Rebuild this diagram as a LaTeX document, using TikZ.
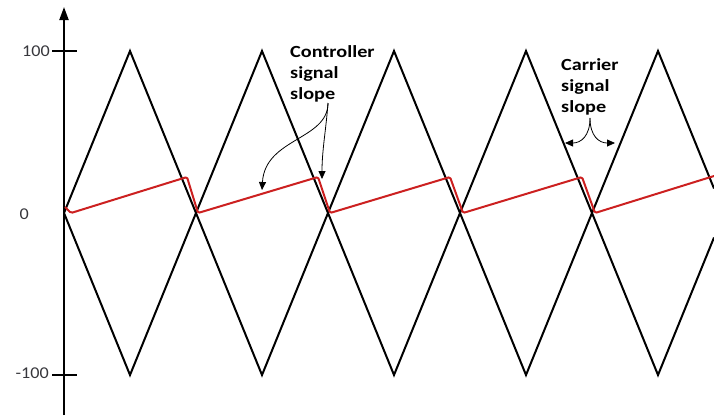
\documentclass[tikz,border=0pt]{standalone}
\usepackage{fontspec}
\setmainfont{Carlito}
\newfontfamily\labfont[FakeStretch=1.19]{Carlito}
\newfontfamily\numfont[FakeStretch=1.1]{Carlito}
\usetikzlibrary{arrows.meta}
\definecolor{sigred}{RGB}{204,32,32}
\definecolor{numgray}{RGB}{55,55,60}
\tikzset{
  wave/.style={line width=2bp, black, line join=miter},
  ctrlsig/.style={line width=2bp, sigred, line join=round, rounded corners=1.5bp},
  axisline/.style={line width=2bp, black},
  callout/.style={line width=0.8bp, black, -{Triangle[length=8bp,width=7bp]}},
  numlabel/.style={font=\numfont\fontsize{16.5bp}{20bp}\selectfont, text=numgray, inner sep=0pt},
  slopelabel/.style={font=\labfont\bfseries\fontsize{17bp}{21bp}\selectfont, align=left, inner sep=0pt, anchor=north west}
}
\begin{document}
\begin{tikzpicture}[x=1bp,y=-1bp]
\useasboundingbox (0,0) rectangle (714,418);
% axis
\coordinate (axbot) at (64,415);
\coordinate (axtop) at (64,7);
\draw[axisline,-{Triangle[length=13bp,width=9bp]}] (axbot) -- (axtop);
\coordinate (t1a) at (52,51); \coordinate (t1b) at (77,51);
\coordinate (t2a) at (52,375); \coordinate (t2b) at (77,375);
\draw[axisline] (t1a) -- (t1b);
\draw[axisline] (t2a) -- (t2b);
\node[numlabel, anchor=east] (l100) at (50,51) {100};
\node[numlabel, anchor=east] (l0) at (29,214) {0};
\node[numlabel, anchor=east] (lm100) at (49,373) {-100};
% carrier waves
\draw[wave] (64,213) -- (130,51) -- (262,375) -- (394,51) -- (526,375) -- (658,51) -- (714,188.5);
\draw[wave] (64,213) -- (130,375) -- (262,51) -- (394,375) -- (526,51) -- (658,375) -- (714,237.5);
% controller signal
\draw[ctrlsig] (65,207) -- (71,213) -- (187,177) -- (198,213) -- (318,177) -- (330,213)
  -- (450,177) -- (463,213) -- (582,177) -- (595,213) -- (714,176);
% labels
\node[slopelabel] (ctrl) at (290,45) {Controller\\signal\\slope};
\node[slopelabel] (carr) at (561,58) {Carrier\\signal\\slope};
% callouts
\coordinate (cs) at (328,103);
\coordinate (ct1) at (322,179);
\coordinate (ct2) at (262,190);
\draw[callout] (cs) .. controls (326,130) and (322,150) .. (ct1);
\draw[callout] (cs) .. controls (328,140) and (265,138) .. (ct2);
\coordinate (rs) at (590,118);
\coordinate (rt1) at (565,143);
\coordinate (rt2) at (615,143);
\draw[callout] (rs) .. controls (590,136) and (581,143) .. (rt1);
\draw[callout] (rs) .. controls (590,136) and (599,143) .. (rt2);
\end{tikzpicture}
\end{document}
